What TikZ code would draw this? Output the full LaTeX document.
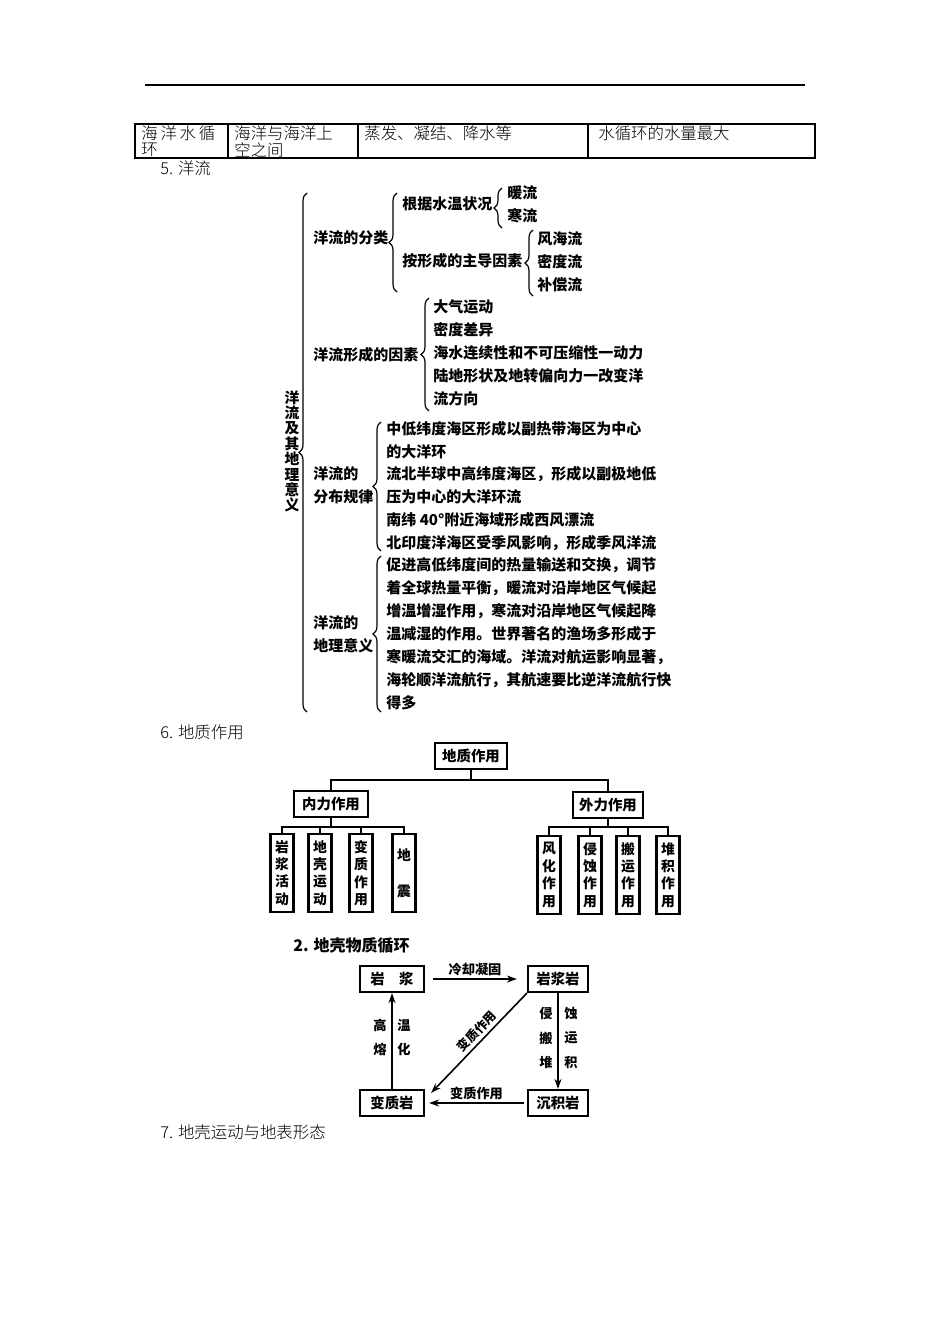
\documentclass[tikz,border=0pt]{standalone}
\usepackage{fontspec}
\setmainfont{Noto Sans CJK SC}
\newfontfamily\bodyf{Noto Sans CJK SC Light}
\usetikzlibrary{decorations.pathreplacing,arrows.meta}
\begin{document}
\begin{tikzpicture}[x=0.5pt,y=-0.5pt,
  body/.style={font=\bodyf\fontsize{8.2}{8.6}\selectfont,inner sep=0pt,anchor=west},
  dg/.style={font=\bfseries\fontsize{7.5}{7.8}\selectfont,inner sep=0pt,anchor=west},
  vt/.style={font=\bfseries\fontsize{6.9}{8.7}\selectfont,inner sep=0pt,anchor=center,align=center,text width=8pt},
  br/.style={decorate,decoration={brace,amplitude=4pt},line width=0.6pt},
  bx/.style={draw,line width=1.1pt,inner sep=0pt,font=\bfseries\fontsize{7.2}{7.5}\selectfont},
  ln/.style={line width=0.9pt},
  ar/.style={line width=0.8pt,-{Stealth[length=5pt,width=3.5pt]}}]
\useasboundingbox (0,0) rectangle (950,1344);
% top rule
\draw[line width=0.7pt] (145,85) -- (805,85);
% table
\draw[line width=0.6pt] (135,124) rectangle (815,158);
\foreach \x in {228,358,588} \draw[line width=0.6pt] (\x,124) -- (\x,158);
\node[body] (t1) at (141,133) {海\,洋\,水\,循};
\node[body] (t1b) at (141,150) {环};
\node[body] (t2) at (234,133) {海洋与海洋上};
\node[body] (t2b) at (234,150) {空之间};
\node[body] (t3) at (364,133) {蒸发、凝结、降水等};
\node[body] (t4) at (598,133) {水循环的水量最大};
\node[body] (h5) at (160,168) {5. 洋流};
% ocean currents brace diagram
\draw[br] (307,712) -- (307,193);
\node[dg,anchor=north,align=center,text width=8pt,font=\bfseries\fontsize{7.4}{7.7}\selectfont] (root) at (292,390) {洋\\流\\及\\其\\地\\理\\意\\义};
\node[dg] (c1) at (313,238) {洋流的分类};
\draw[br] (397,292) -- (397,193);
\node[dg] (c11) at (402,204) {根据水温状况};
\draw[br] (502,228) -- (502,188);
\node[dg] (w1) at (507,193) {暖流};
\node[dg] (w2) at (507,216) {寒流};
\node[dg] (c12) at (402,261) {按形成的主导因素};
\draw[br] (533,296) -- (533,230);
\node[dg] (f1) at (537,239) {风海流};
\node[dg] (f2) at (537,262) {密度流};
\node[dg] (f3) at (537,285) {补偿流};
\node[dg] (c2) at (313,355) {洋流形成的因素};
\draw[br] (429,411) -- (429,298);
\foreach \t [count=\i] in {大气运动,密度差异,海水连续性和不可压缩性一动力,陆地形状及地转偏向力一改变洋,流方向}
  \node[dg] (g\i) at (433,284+23*\i) {\t};
\node[dg] (c3) at (313,474) {洋流的};
\node[dg] (c3b) at (313,497) {分布规律};
\draw[br] (381,551) -- (381,422);
\foreach \t [count=\i] in {中低纬度海区形成以副热带海区为中心,的大洋环,流北半球中高纬度海区，形成以副极地低,压为中心的大洋环流,南纬 40°附近海域形成西风漂流,北印度洋海区受季风影响，形成季风洋流}
  \node[dg] (d\i) at (386,406+22.8*\i) {\t};
\node[dg] (c4) at (313,623) {洋流的};
\node[dg] (c4b) at (313,646) {地理意义};
\draw[br] (381,712) -- (381,556);
\foreach \t [count=\i] in {促进高低纬度间的热量输送和交换，调节,着全球热量平衡，暖流对沿岸地区气候起,增温增湿作用，寒流对沿岸地区气候起降,温减湿的作用。世界著名的渔场多形成于,寒暖流交汇的海域。洋流对航运影响显著，,海轮顺洋流航行，其航速要比逆洋流航行快,得多}
  \node[dg] (m\i) at (386,542+23*\i) {\t};
% geological action
\node[body] (h6) at (160,732) {6. 地质作用};
\node[bx,minimum width=36pt,minimum height=13pt] (r) at (471,756) {地质作用};
\node[bx,minimum width=37pt,minimum height=13pt] (nl) at (331,804) {内力作用};
\node[bx,minimum width=35pt,minimum height=13pt] (wl) at (608,805) {外力作用};
\coordinate (rj) at (471,780);
\draw[ln] (r.south) -- (rj);
\draw[ln] (nl.north) |- (rj) -| (wl.north);
\foreach \x [count=\i] in {282,320,361,404}
  \node[bx,minimum width=11.5pt,minimum height=39pt] (a\i) at (\x,873) {};
\node[vt] at (a1) {岩\\浆\\活\\动};
\node[vt] at (a2) {地\\壳\\运\\动};
\node[vt] at (a3) {变\\质\\作\\用};
\node[vt,font=\bfseries\fontsize{6.9}{18}\selectfont] at (a4) {地\\震};
\foreach \x [count=\i] in {549,590,628,668}
  \node[bx,minimum width=11.5pt,minimum height=39pt] (b\i) at (\x,875) {};
\node[vt] at (b1) {风\\化\\作\\用};
\node[vt] at (b2) {侵\\蚀\\作\\用};
\node[vt] at (b3) {搬\\运\\作\\用};
\node[vt] at (b4) {堆\\积\\作\\用};
\coordinate (nj) at (331,827);
\coordinate (wj) at (608,827);
\draw[ln] (nl.south) -- (nj);
\draw[ln] (wl.south) -- (wj);
\draw[ln] (a1.north) |- (nj) -| (a4.north);
\draw[ln] (a2.north) -- (a2.north|-nj);
\draw[ln] (a3.north) -- (a3.north|-nj);
\draw[ln] (b1.north) |- (wj) -| (b4.north);
\draw[ln] (b2.north) -- (b2.north|-wj);
\draw[ln] (b3.north) -- (b3.north|-wj);
% rock cycle
\node[dg,font=\bfseries\fontsize{8}{8.4}\selectfont] (h2) at (293,945) {2. 地壳物质循环};
\node[bx,minimum width=32pt,minimum height=13pt] (yj) at (392,979) {岩\quad 浆};
\node[bx,minimum width=30pt,minimum height=13pt] (yjy) at (558,979) {岩浆岩};
\node[bx,minimum width=32pt,minimum height=13pt] (bzy) at (392,1103) {变质岩};
\node[bx,minimum width=30pt,minimum height=13pt] (cjy) at (558,1103) {沉积岩};
\draw[ar] (yj.east) ++(8,0) -- ([xshift=-5pt]yjy.west) node[midway,above=1pt,dg,anchor=south,font=\bfseries\fontsize{6.6}{7}\selectfont] (l1) {冷却凝固};
\draw[ar] (cjy.west) ++(-3,0) -- ([xshift=2pt]bzy.east) node[midway,above=1pt,dg,anchor=south,font=\bfseries\fontsize{6.6}{7}\selectfont] (l2) {变质作用};
\draw[ar] (yjy.south) -- (cjy.north);
\draw[ar] (bzy.north) -- (yj.south);
\draw[ar] (yjy.south west) -- ([xshift=3pt,yshift=-2pt]bzy.north east) node[pos=0.45,sloped,dg,anchor=south,yshift=1.5pt,font=\bfseries\fontsize{6.2}{6.5}\selectfont] (l3) {变质作用};
\foreach \a/\b [count=\i] in {侵/蚀,搬/运,堆/积}{
  \node[dg,anchor=center,font=\bfseries\fontsize{6.6}{7}\selectfont] at (546,990+24*\i) {\a};
  \node[dg,anchor=center,font=\bfseries\fontsize{6.6}{7}\selectfont] at (571,990+24*\i) {\b};}
\node[dg,anchor=center,font=\bfseries\fontsize{6.6}{7}\selectfont] at (380,1025) {高};
\node[dg,anchor=center,font=\bfseries\fontsize{6.6}{7}\selectfont] at (404,1025) {温};
\node[dg,anchor=center,font=\bfseries\fontsize{6.6}{7}\selectfont] at (380,1049) {熔};
\node[dg,anchor=center,font=\bfseries\fontsize{6.6}{7}\selectfont] at (404,1049) {化};
\node[body] (h7) at (160,1132) {7. 地壳运动与地表形态};
\end{tikzpicture}
\end{document}
